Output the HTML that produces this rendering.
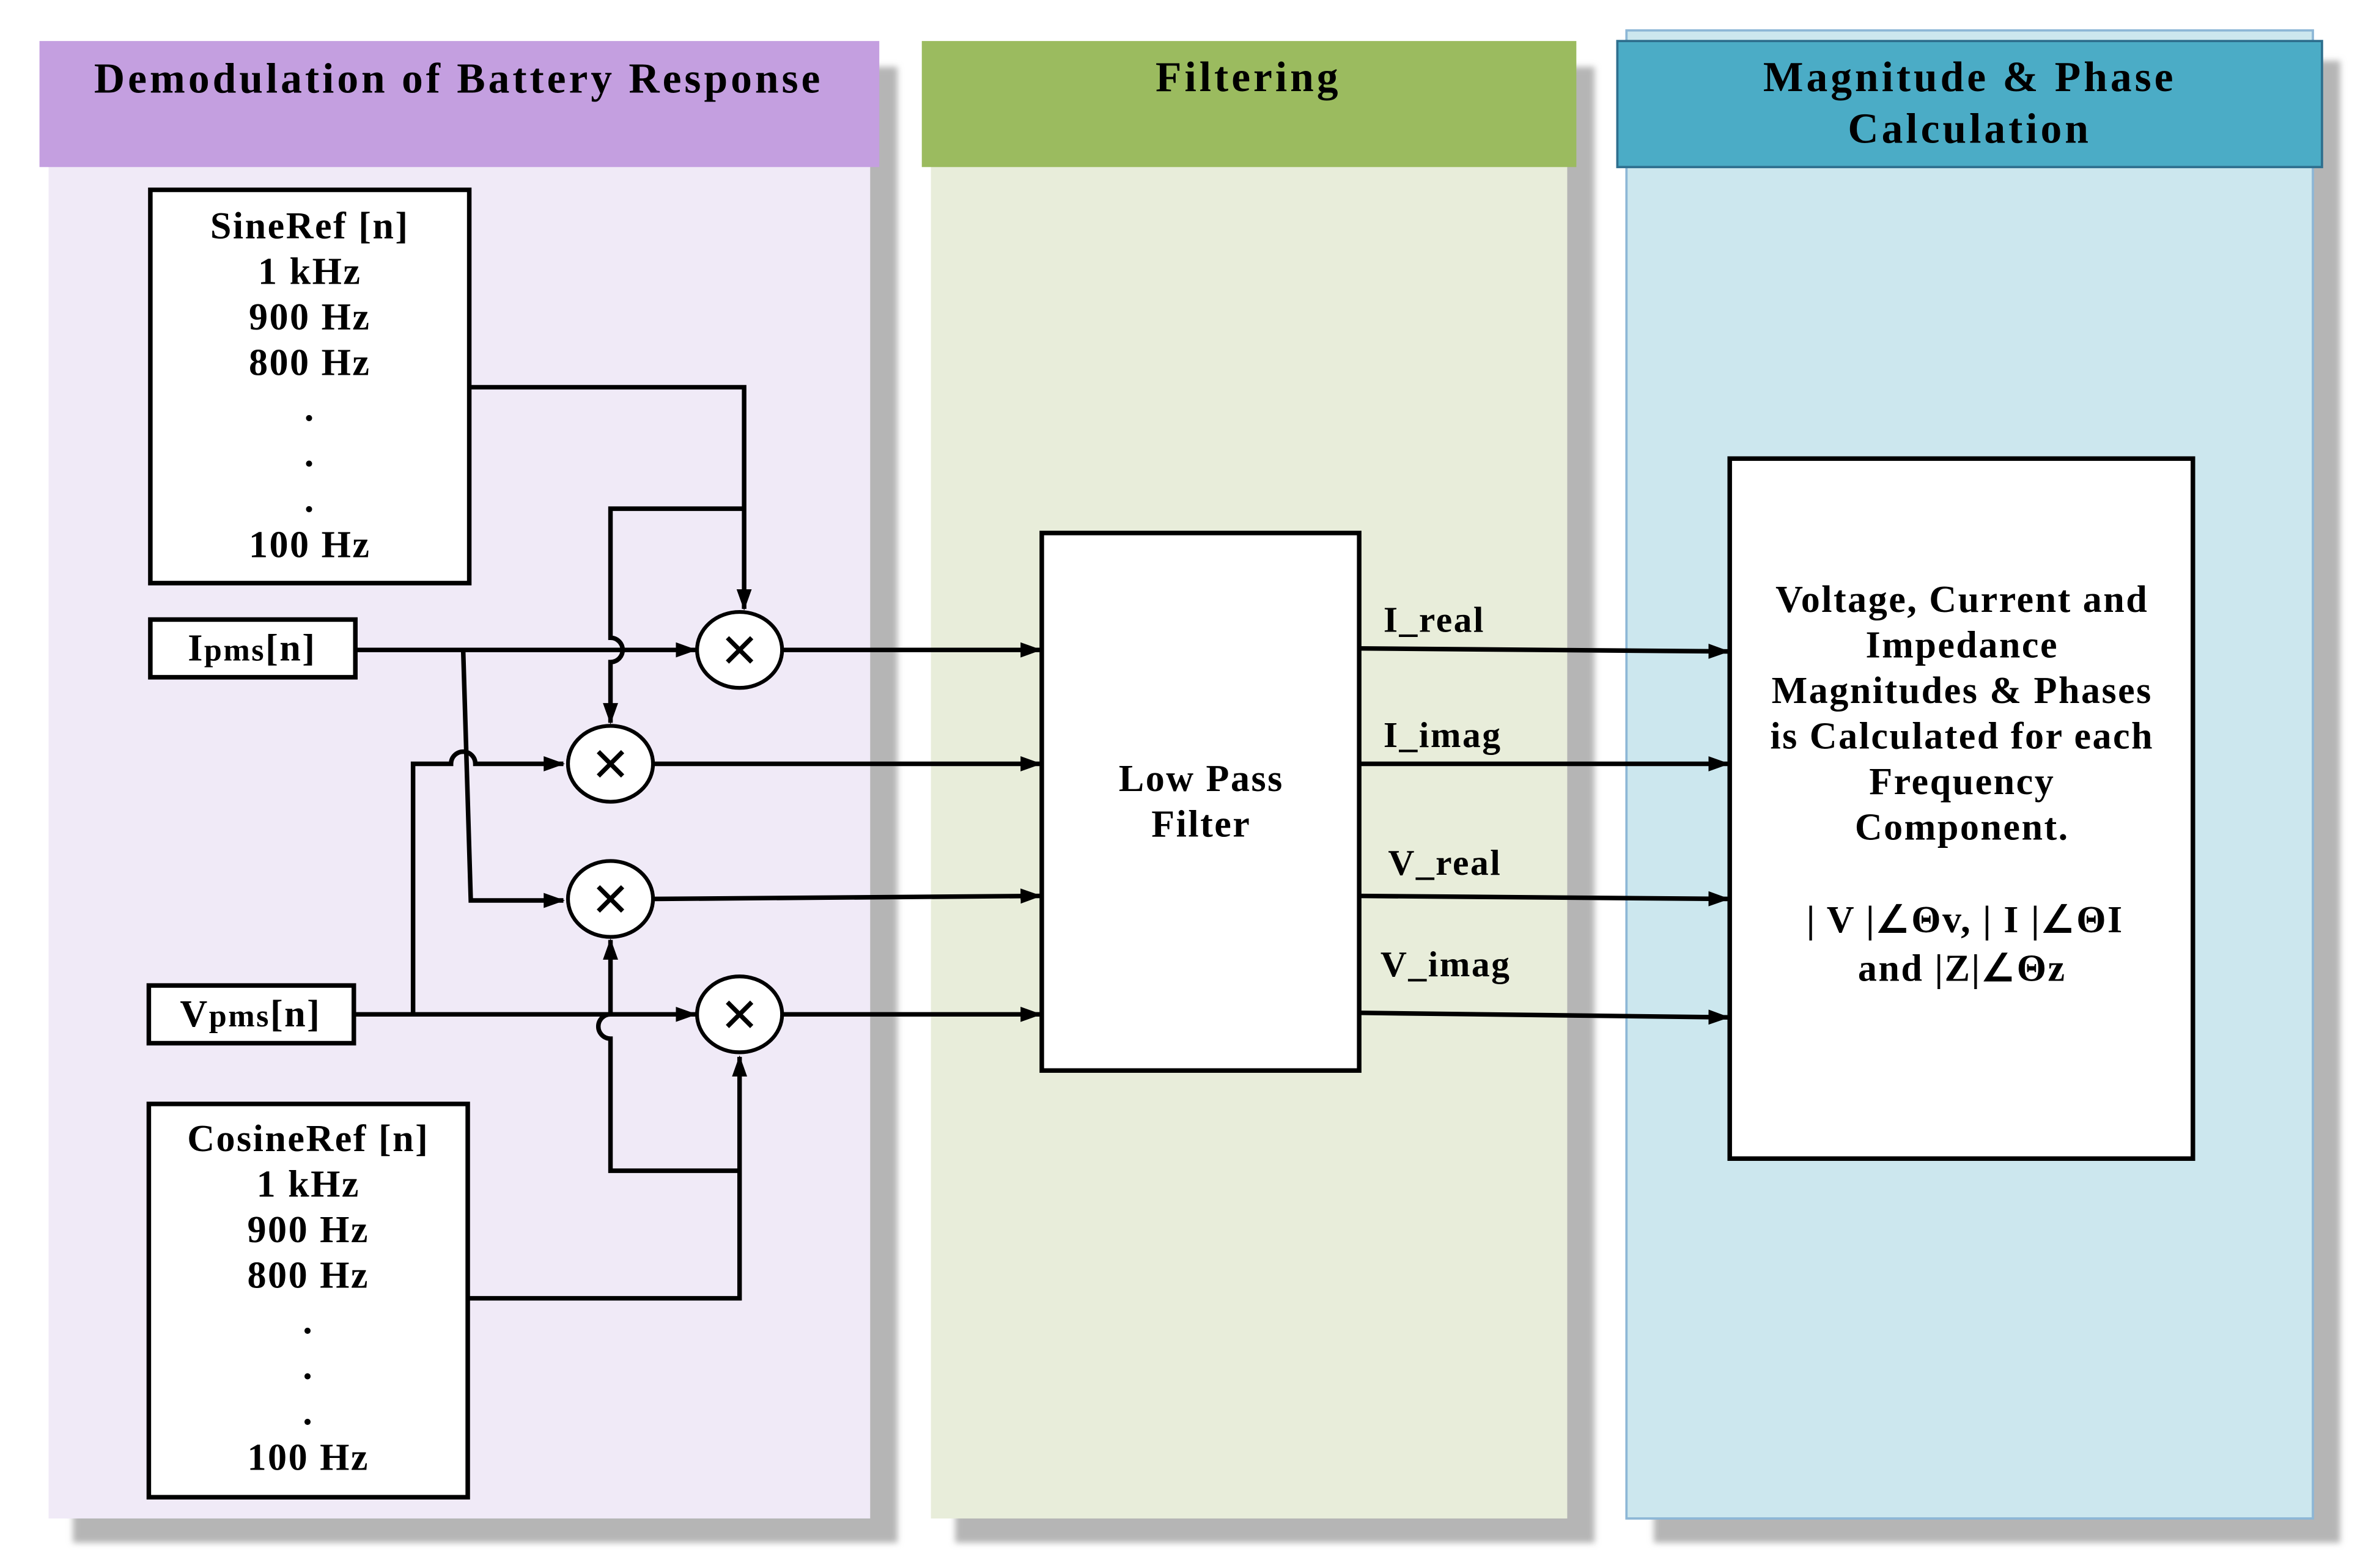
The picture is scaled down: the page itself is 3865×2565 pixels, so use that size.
<!DOCTYPE html>
<html><head><meta charset="utf-8"><style>
html,body{margin:0;padding:0;background:#fff;}
svg{display:block;}
text{font-family:"Liberation Serif",serif;font-weight:bold;fill:#000;}
</style></head><body>
<svg width="3865" height="2565" viewBox="0 0 1556 1032.6" xmlns="http://www.w3.org/2000/svg">
<defs>
<marker id="a" markerWidth="14" markerHeight="12" refX="13" refY="6" orient="auto" markerUnits="userSpaceOnUse"><path d="M0,1 L14,6 L0,11 Z" fill="#000"/></marker>
<filter id="sh" x="-10%" y="-10%" width="130%" height="130%"><feGaussianBlur stdDeviation="2"/></filter>
</defs>
<rect x="48" y="44" width="543" height="972" fill="#b5b5b5" filter="url(#sh)"/>
<rect x="629" y="44" width="421" height="972" fill="#b5b5b5" filter="url(#sh)"/>
<rect x="1089" y="40" width="452" height="976" fill="#b5b5b5" filter="url(#sh)"/>
<rect x="32" y="100" width="541" height="900" fill="#f0eaf7"/>
<rect x="613" y="100" width="419" height="900" fill="#e8edda"/>
<rect x="1071" y="20" width="452" height="980" fill="#cce7ee" stroke="#8db7d6" stroke-width="1.5"/>
<rect x="26" y="27" width="553" height="83" fill="#c49fe0"/>
<rect x="607" y="27" width="431" height="83" fill="#9bbb5f"/>
<rect x="1065" y="27" width="464" height="83" fill="#4bacc6" stroke="#2e6f8e" stroke-width="1.5"/>
<g font-size="28" letter-spacing="2" text-anchor="middle">
<text x="302" y="61">Demodulation of Battery Response</text>
<text x="822" y="60">Filtering</text>
<text x="1297" y="60">Magnitude &amp; Phase</text>
<text x="1297" y="94">Calculation</text>
</g>
<g stroke="#000" stroke-width="3" fill="none">
<rect x="99" y="125" width="210" height="259" fill="#fff"/>
<rect x="99" y="408" width="135" height="38" fill="#fff"/>
<rect x="98" y="649" width="135" height="38" fill="#fff"/>
<rect x="98" y="727" width="210" height="259" fill="#fff"/>
<rect x="686" y="351" width="209" height="354" fill="#fff"/>
<rect x="1139" y="302" width="305" height="461" fill="#fff"/>
</g>
<g stroke="#000" stroke-width="3" fill="none">
<path d="M309,255 H490 V401" marker-end="url(#a)"/>
<path d="M490,335 H402 V420 A8,8 0 0 1 402,436 V476" marker-end="url(#a)"/>
<path d="M234,428 H458" marker-end="url(#a)"/>
<path d="M305,428 L310,593 H371" marker-end="url(#a)"/>
<path d="M233,668 H458" marker-end="url(#a)"/>
<path d="M272,668 V503 H297 A8,8 0 0 1 313,503 H371" marker-end="url(#a)"/>
<path d="M308,855 H487 V696" marker-end="url(#a)"/>
<path d="M487,771 H402 V684 A8,8 0 0 1 402,668 V619" marker-end="url(#a)"/>
<path d="M516,428 H685" marker-end="url(#a)"/>
<path d="M431,503 H685" marker-end="url(#a)"/>
<path d="M431,592 L685,590" marker-end="url(#a)"/>
<path d="M516,668 H685" marker-end="url(#a)"/>
<path d="M895,427 L1138,429" marker-end="url(#a)"/>
<path d="M895,503 L1138,503" marker-end="url(#a)"/>
<path d="M895,590 L1138,592" marker-end="url(#a)"/>
<path d="M895,667 L1138,670" marker-end="url(#a)"/>
</g>
<g stroke="#000" stroke-width="2.5" fill="#fff">
<ellipse cx="487" cy="428" rx="28" ry="25"/>
<ellipse cx="402" cy="503" rx="28" ry="25"/>
<ellipse cx="402" cy="592" rx="28" ry="25"/>
<ellipse cx="487" cy="668" rx="28" ry="25"/>
</g>
<g stroke="#000" stroke-width="3">
<path d="M479,420 L495,436 M495,420 L479,436"/>
<path d="M394,495 L410,511 M410,495 L394,511"/>
<path d="M394,584 L410,600 M410,584 L394,600"/>
<path d="M479,660 L495,676 M495,660 L479,676"/>
</g>
<g font-size="25" letter-spacing="1" text-anchor="middle">
<text x="204" y="157">SineRef [n]</text>
<text x="204" y="187">1 kHz</text>
<text x="204" y="217">900 Hz</text>
<text x="204" y="247">800 Hz</text>
<text x="204" y="277">.</text>
<text x="204" y="307">.</text>
<text x="204" y="337">.</text>
<text x="204" y="367">100 Hz</text>
<text x="203" y="758">CosineRef [n]</text>
<text x="203" y="788">1 kHz</text>
<text x="203" y="818">900 Hz</text>
<text x="203" y="848">800 Hz</text>
<text x="203" y="878">.</text>
<text x="203" y="908">.</text>
<text x="203" y="938">.</text>
<text x="203" y="968">100 Hz</text>
<text x="166" y="435">I<tspan font-size="21">pms</tspan>[n]</text>
<text x="165" y="676">V<tspan font-size="21">pms</tspan>[n]</text>
<text x="791" y="521">Low Pass</text>
<text x="791" y="551">Filter</text>
<text x="1292" y="403">Voltage, Current and</text>
<text x="1292" y="433">Impedance</text>
<text x="1292" y="463">Magnitudes &amp; Phases</text>
<text x="1292" y="493">is Calculated for each</text>
<text x="1292" y="523">Frequency</text>
<text x="1292" y="553">Component.</text>
<text x="1294" y="614">| V |∠Θv, | I |∠ΘI</text>
<text x="1292" y="646">and |Z|∠Θz</text>
</g>
<g font-size="24" letter-spacing="1">
<text x="911" y="416">I_real</text>
<text x="911" y="492">I_imag</text>
<text x="914" y="576">V_real</text>
<text x="909" y="643">V_imag</text>
</g>
</svg>
</body></html>
